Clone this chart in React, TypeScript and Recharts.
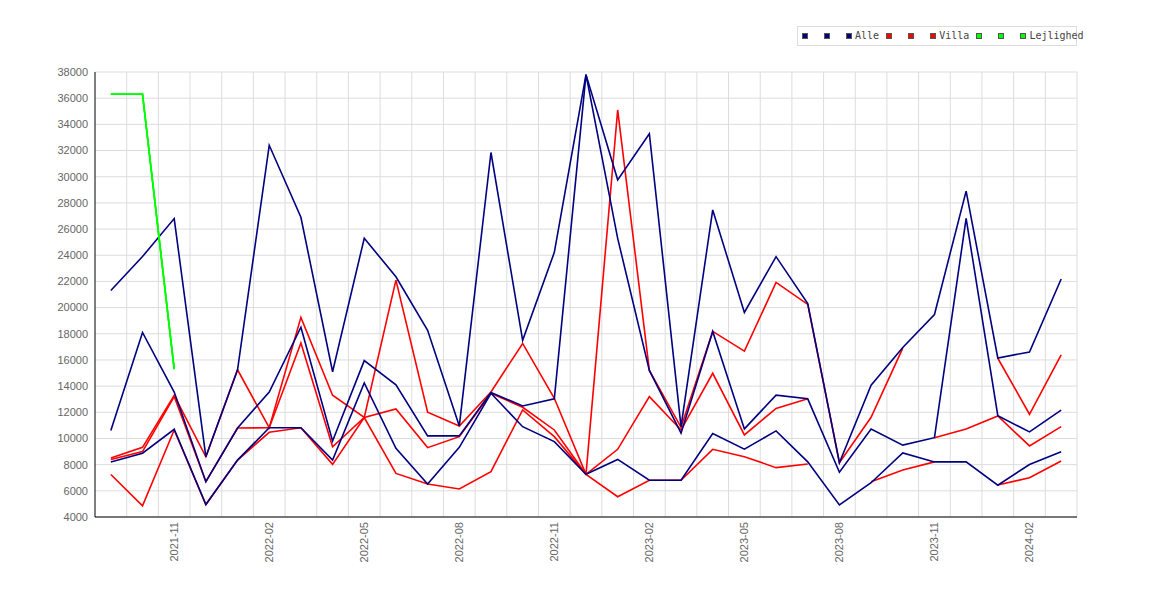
import React from 'react';
import { LineChart, Line, XAxis, YAxis, CartesianGrid } from 'recharts';

const months = [
  '2021-09', '2021-10', '2021-11', '2021-12', '2022-01', '2022-02', '2022-03', '2022-04',
  '2022-05', '2022-06', '2022-07', '2022-08', '2022-09', '2022-10', '2022-11', '2022-12',
  '2023-01', '2023-02', '2023-03', '2023-04', '2023-05', '2023-06', '2023-07', '2023-08',
  '2023-09', '2023-10', '2023-11', '2023-12', '2024-01', '2024-02', '2024-03',
];

const alleMax = [21300, 23900, 26800, 8600, 15250, 32400, 26900, 15100, 25300, 22350, 18270, 10950, 31850, 17500, 24220, 37800, 29760, 33280, 10900, 27460, 19630, 23890, 20300, 8150, 14070, 16950, 19470, 28900, 16150, 16610, 22180];
const alleMid = [10600, 18100, 13550, 6700, 10800, 13550, 18500, 9800, 15950, 14100, 10200, 10200, 13520, 12480, 13030, 37800, 25290, 15200, 10400, 18180, 10730, 13310, 13030, 7420, 10730, 9490, 10060, 26820, 11740, 10500, 12160];
const alleMin = [8200, 8870, 10700, 4950, 8350, 10820, 10820, 8350, 14250, 9250, 6520, 9320, 13450, 10900, 9760, 7260, 8400, 6810, 6810, 10370, 9180, 10580, 8210, 4920, 6620, 8900, 8210, 8210, 6430, 8010, 8980];

const villaMax = [8500, 9320, 13300, 8600, 15250, 10820, 19250, 13300, 11600, 22100, 12000, 10950, 13550, 17260, 13070, 7260, 35100, 15200, 10850, 18180, 16670, 21920, 20240, 8150, 11620, 16900, null, null, 16130, 11850, 16380];
const villaMid = [8400, 9000, 13200, 6700, 10800, 10820, 17300, 9370, 11600, 12250, 9300, 10140, 13450, 12380, 10650, 7260, 9170, 13200, 10650, 14980, 10270, 12300, 13030, null, null, null, 10060, 10720, 11720, 9430, 10900];
const villaMin = [7250, 4850, 10650, 4950, 8350, 10470, 10820, 8020, 11600, 7330, 6520, 6140, 7460, 12180, 10140, 7260, 5550, 6810, 6810, 9170, 8610, 7770, 8050, null, 6700, 7590, 8210, null, 6440, 7000, 8280];

const lejMax = [36300, 36300, 15300];
const lejMid = [36300, 36300, 15300];
const lejMin = [36300, 36300, 15300];

const yTicks = [4000, 6000, 8000, 10000, 12000, 14000, 16000, 18000, 20000, 22000, 24000, 26000, 28000, 30000, 32000, 34000, 36000, 38000];
const xTickMonths = ['2021-11', '2022-02', '2022-05', '2022-08', '2022-11', '2023-02', '2023-05', '2023-08', '2023-11', '2024-02'];

const BLUE = '#000080';
const RED = '#ff0000';
const GREEN = '#00ff00';

// legend order
const legendSeries = [
  { key: 'alleMax', name: ' ', color: BLUE },
  { key: 'alleMid', name: ' ', color: BLUE },
  { key: 'alleMin', name: 'Alle', color: BLUE },
  { key: 'villaMax', name: ' ', color: RED },
  { key: 'villaMid', name: ' ', color: RED },
  { key: 'villaMin', name: 'Villa', color: RED },
  { key: 'lejMax', name: ' ', color: GREEN },
  { key: 'lejMid', name: ' ', color: GREEN },
  { key: 'lejMin', name: 'Lejlighed', color: GREEN },
];

// drawing order (red beneath blue, green on top)
const drawOrder = ['villaMax', 'villaMid', 'villaMin', 'alleMax', 'alleMid', 'alleMin', 'lejMax', 'lejMid', 'lejMin'];

const data = months.map((m, i) => ({
  idx: i,
  month: m,
  alleMax: alleMax[i],
  alleMid: alleMid[i],
  alleMin: alleMin[i],
  villaMax: villaMax[i],
  villaMid: villaMid[i],
  villaMin: villaMin[i],
  lejMax: i < lejMax.length ? lejMax[i] : null,
  lejMid: i < lejMid.length ? lejMid[i] : null,
  lejMin: i < lejMin.length ? lejMin[i] : null,
}));

const xTicks = xTickMonths.map((m) => months.indexOf(m));

const TICK_FONT = '"Liberation Sans", Arial, sans-serif';

const XTick = (props: any) => {
  const { x, y, payload } = props;
  return (
    <text
      x={x}
      y={y}
      transform={`rotate(-90 ${x} ${y})`}
      textAnchor="end"
      dominantBaseline="central"
      fontSize={11}
      fontFamily={TICK_FONT}
      fill="#666"
    >
      {months[payload.value]}
    </text>
  );
};

const LegendBox = () => (
  <div
    style={{
      position: 'absolute',
      left: 789,
      top: 18,
      width: 280,
      height: 20,
      boxSizing: 'border-box',
      border: '1px solid #dddddd',
      background: '#fff',
      display: 'flex',
      alignItems: 'center',
      paddingLeft: 4,
      fontFamily: '"DejaVu Sans Mono", monospace',
      fontSize: 10,
      color: '#444',
      whiteSpace: 'pre',
    }}
  >
    {legendSeries.map((s) => (
      <div key={s.key} style={{ display: 'flex', alignItems: 'center', marginRight: 7 }}>
        <span
          style={{
            display: 'inline-block',
            width: 6,
            height: 6,
            boxSizing: 'border-box',
            border: '1px solid #555',
            background: s.color,
            marginRight: 3,
          }}
        />
        <span style={{ whiteSpace: 'pre', lineHeight: '10px' }}>{s.name}</span>
      </div>
    ))}
  </div>
);

export default function App() {
  const colorOf = (k: string) => legendSeries.find((s) => s.key === k)!.color;
  const nameOf = (k: string) => legendSeries.find((s) => s.key === k)!.name;
  return (
    <div style={{ position: 'relative', width: 1154, height: 584 }}>
      <LineChart
        width={1154}
        height={584}
        data={data}
        margin={{ top: 64, right: 85, bottom: 5, left: 0 }}
      >
        <CartesianGrid
          stroke="#dddddd"
          strokeWidth={1}
          verticalCoordinatesGenerator={(p: any) => {
            const off = p.offset;
            return months.map((_, i) => off.left + (off.width * (i + 1)) / months.length);
          }}
        />
        <XAxis
          dataKey="idx"
          type="number"
          domain={[-0.5, months.length - 0.5]}
          ticks={xTicks}
          interval={0}
          tick={<XTick />}
          tickLine={false}
          tickSize={0}
          tickMargin={5}
          height={70}
          axisLine={{ stroke: '#000', strokeWidth: 1 }}
          allowDataOverflow
        />
        <YAxis
          type="number"
          domain={[4000, 38000]}
          ticks={yTicks}
          interval={0}
          width={87}
          tickLine={false}
          tickSize={0}
          tickMargin={7}
          axisLine={{ stroke: '#000', strokeWidth: 1 }}
          tick={{ fontSize: 11, fontFamily: TICK_FONT, fill: '#666' }}
          allowDataOverflow
        />
        {drawOrder.map((k) => (
          <Line
            key={k}
            type="linear"
            dataKey={k}
            name={nameOf(k)}
            stroke={colorOf(k)}
            strokeWidth={1.6}
            dot={false}
            activeDot={false}
            isAnimationActive={false}
          />
        ))}
      </LineChart>
      <LegendBox />
    </div>
  );
}
